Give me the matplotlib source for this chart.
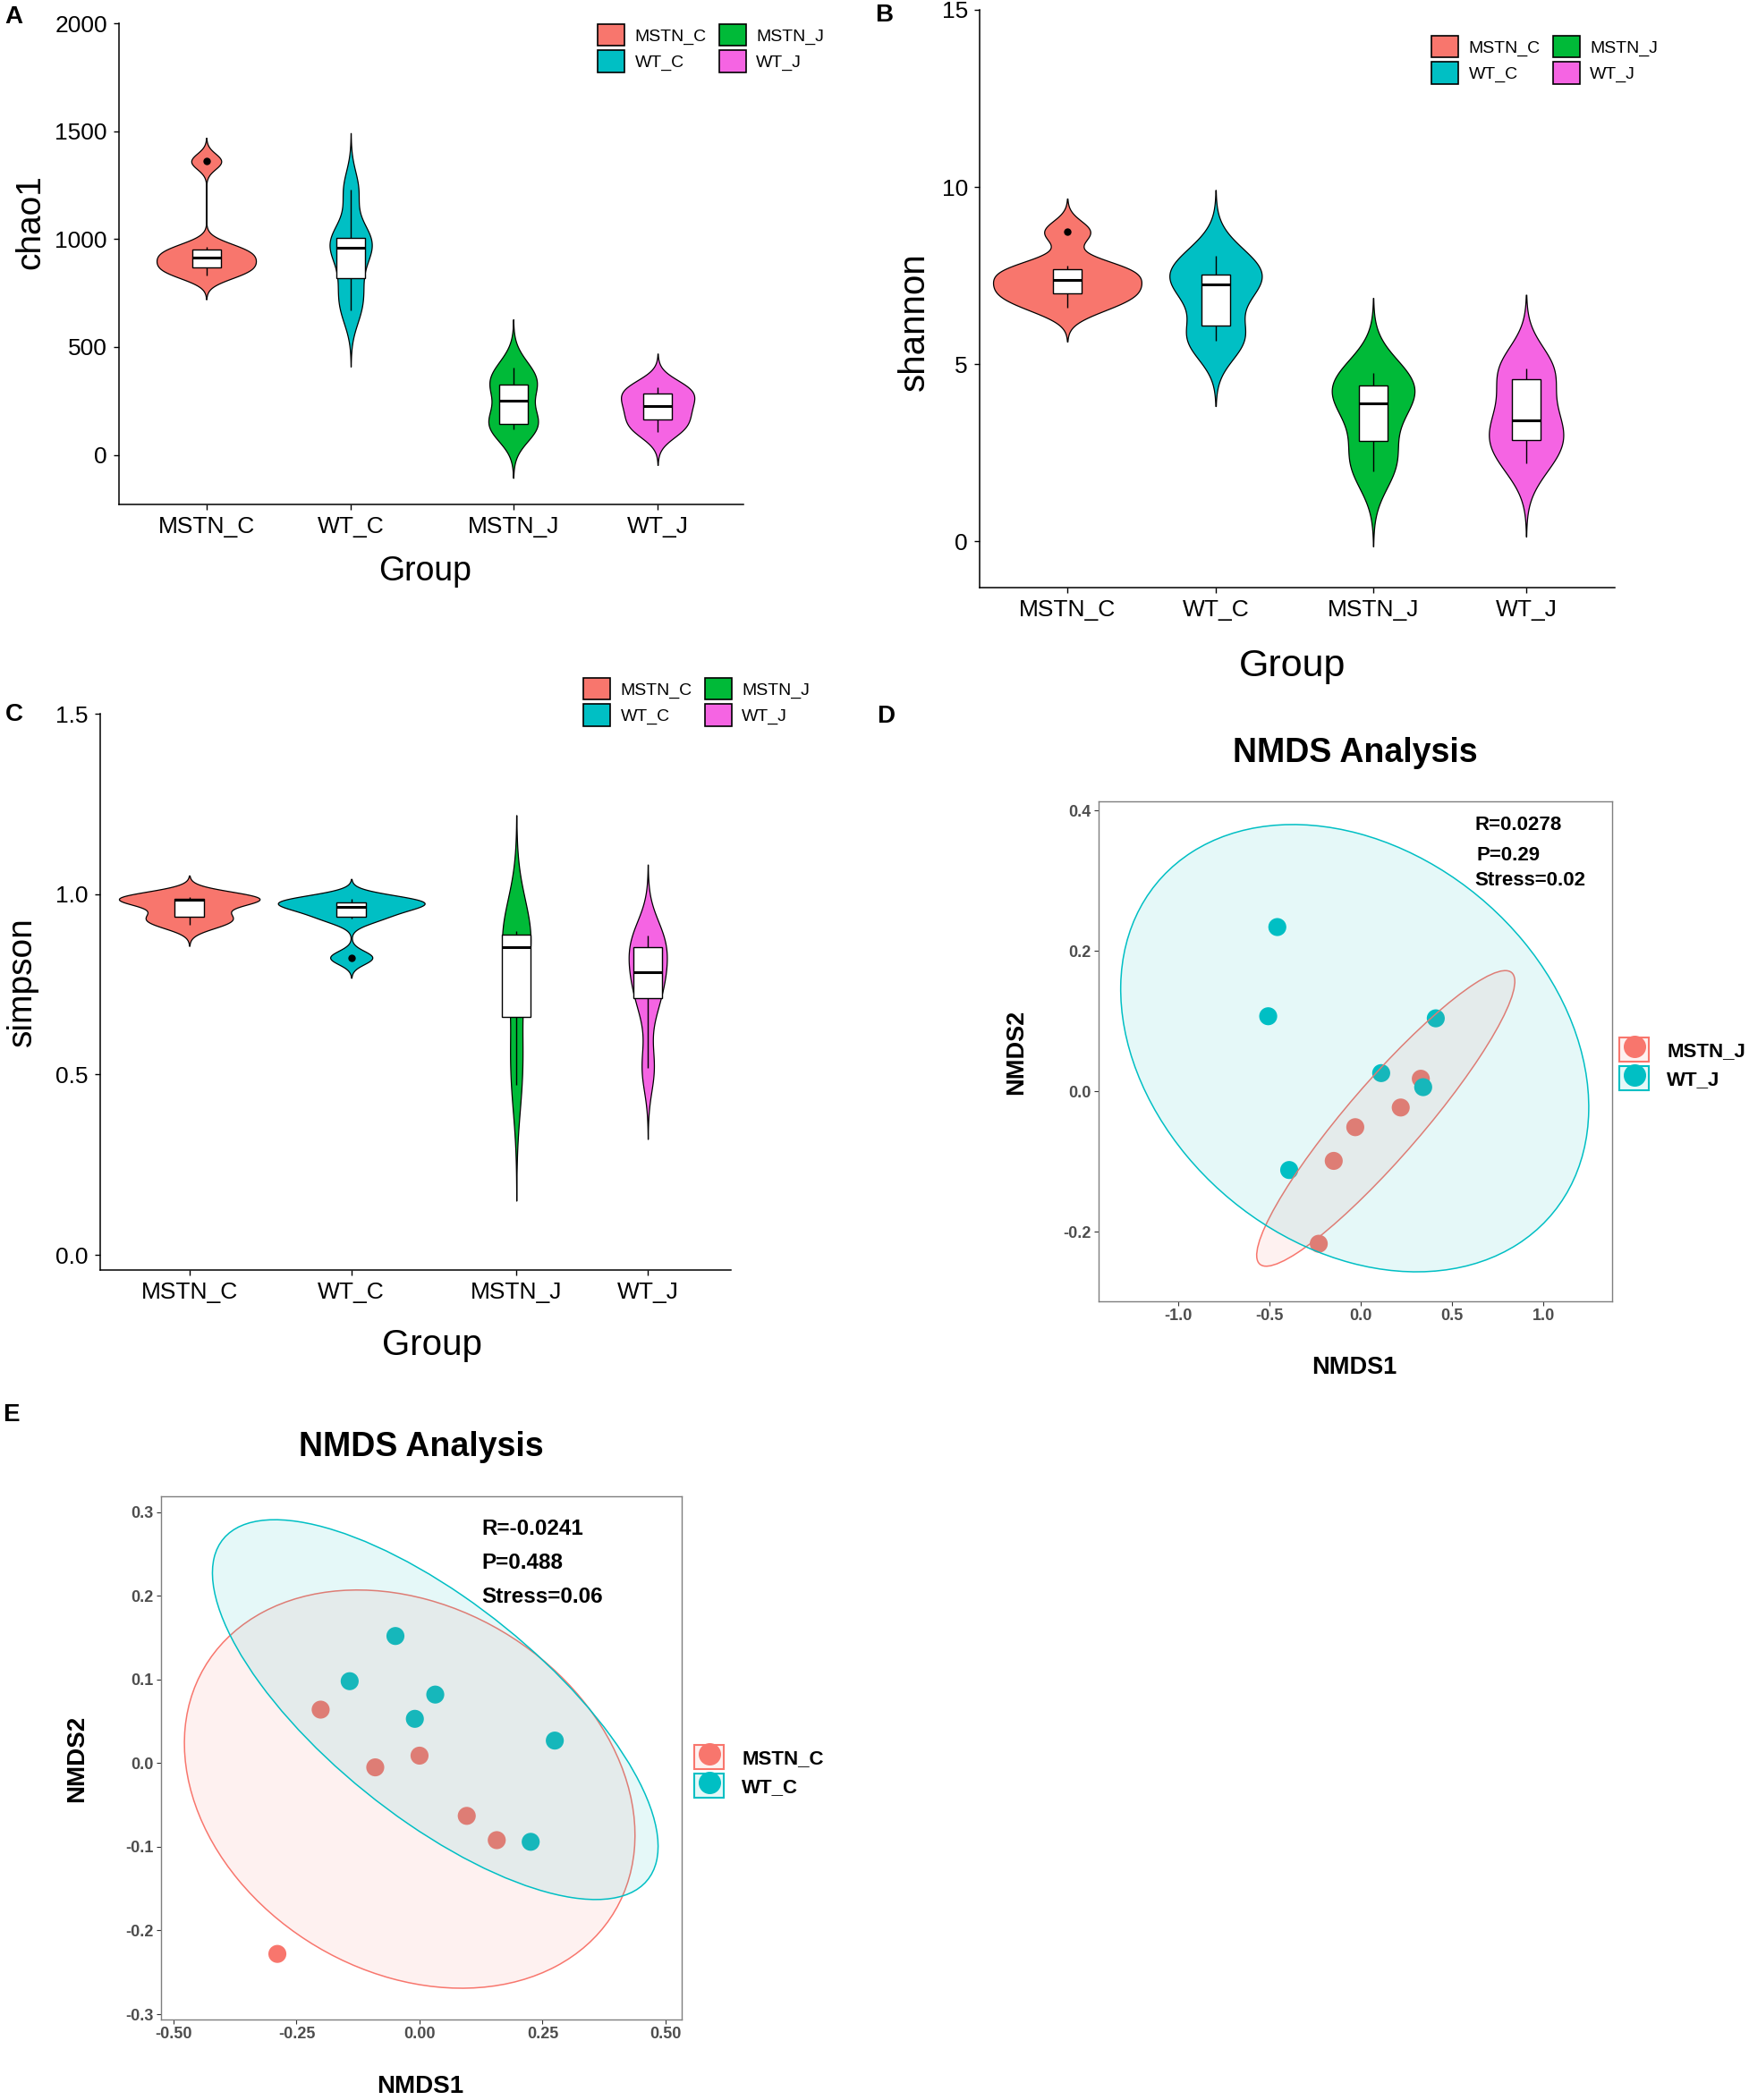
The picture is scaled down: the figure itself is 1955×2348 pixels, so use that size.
"""Alpha diversity violins (chao1, shannon, simpson) and two NMDS panels."""
import numpy as np
import matplotlib
matplotlib.use("Agg")
import matplotlib.pyplot as plt
from matplotlib.colors import to_rgba
from matplotlib.lines import Line2D
from matplotlib.patches import Ellipse, Patch, Rectangle
from matplotlib.legend_handler import HandlerTuple

plt.rcParams['font.family'] = ['Liberation Sans', 'DejaVu Sans']

# ---- data ----
groups = ["MSTN_C", "WT_C", "MSTN_J", "WT_J"]
group_colors = ["#F8766D", "#00BFC4", "#00BA38", "#F564E3"]

chao1_values = [
    [830, 860, 880, 915, 935, 965, 1360],
    [670, 783, 930, 990, 1010, 1230],
    [117, 130, 186, 314, 330, 404],
    [107, 150, 202, 246, 295, 315],
]
shannon_values = [
    [6.58, 6.92, 7.06, 7.37, 7.59, 7.77, 8.73],
    [5.67, 5.79, 7.00, 7.48, 7.53, 8.06],
    [1.96, 2.54, 3.70, 4.10, 4.50, 4.76],
    [2.21, 2.79, 3.10, 3.74, 4.85, 4.88],
]
simpson_values = [
    [0.915, 0.930, 0.946, 0.985, 0.985, 0.987, 0.993],
    [0.824, 0.932, 0.956, 0.974, 0.979, 0.986],
    [0.472, 0.607, 0.820, 0.888, 0.889, 0.897],
    [0.518, 0.696, 0.760, 0.806, 0.867, 0.885],
]

# NMDS of the J groups (panel D)
nmds_j_mstn_x = [0.329, 0.219, -0.030, -0.148, -0.230]
nmds_j_mstn_y = [0.018, -0.023, -0.051, -0.099, -0.217]
nmds_j_wt_x = [-0.457, -0.507, -0.392, 0.112, 0.342, 0.411]
nmds_j_wt_y = [0.234, 0.107, -0.112, 0.026, 0.006, 0.104]
# ellipse: centre x, centre y, half x range, half y range, correlation
ellipse_j_mstn = [0.137, -0.0385, 0.707, 0.2105, 0.926]
ellipse_j_wt = [-0.033, 0.0615, 1.282, 0.3185, -0.2645]
stats_j = ["R=0.0278", "P=0.29", "Stress=0.02"]

# NMDS of the C groups (panel E)
nmds_c_mstn_x = [-0.201, -0.090, 0.000, 0.096, 0.157, -0.289]
nmds_c_mstn_y = [0.064, -0.005, 0.009, -0.063, -0.092, -0.228]
nmds_c_wt_x = [-0.049, -0.142, 0.032, -0.0095, 0.275, 0.226]
nmds_c_wt_y = [0.152, 0.098, 0.082, 0.053, 0.027, -0.094]
ellipse_c_mstn = [-0.020, -0.031, 0.458, 0.238, -0.231]
ellipse_c_wt = [0.032, 0.064, 0.453, 0.227, -0.72]
stats_c = ["R=-0.0241", "P=0.488", "Stress=0.06"]

W, H = 1955, 2348


def fx(px):
    return px / W


def fy(py):
    return 1 - py / H


def rect(left, top, right, bottom):
    return [fx(left), fy(bottom), (right - left) / W, (bottom - top) / H]


def nrd0(vals):
    """R's default bandwidth."""
    sd = vals.std(ddof=1)
    q1, q3 = np.percentile(vals, [25, 75])
    return 0.9 * min(sd, (q3 - q1) / 1.34) * len(vals) ** -0.2


def violin_density(values):
    vals = np.asarray(values, float)
    bw = nrd0(vals)
    grid = np.linspace(vals.min() - 3 * bw, vals.max() + 3 * bw, 512)
    dens = np.exp(-0.5 * ((grid[:, None] - vals[None, :]) / bw) ** 2).sum(axis=1)
    dens /= len(vals) * bw * np.sqrt(2 * np.pi)
    return grid, dens


def plot_violins(ax, values_v, pos_v, max_half, box_w=0.19):
    curves = [violin_density(v) for v in values_v]
    peak = max(d.max() for _, d in curves)
    for (grid, dens), vals, pos, color in zip(curves, values_v, pos_v, group_colors):
        half = dens / peak * max_half
        ax.fill_betweenx(grid, pos - half, pos + half, facecolor=color,
                         edgecolor='black', lw=0.9, zorder=2)
        arr = np.asarray(vals, float)
        q1, med, q3 = np.percentile(arr, [25, 50, 75])
        iqr = q3 - q1
        ok = (arr >= q1 - 1.5 * iqr) & (arr <= q3 + 1.5 * iqr)
        ax.vlines(pos, arr[ok].min(), q1, color='black', lw=1.0, zorder=3)
        ax.vlines(pos, q3, arr[ok].max(), color='black', lw=1.0, zorder=3)
        ax.add_patch(Rectangle((pos - box_w / 2, q1), box_w, q3 - q1,
                               facecolor='white', edgecolor='black', lw=1.0, zorder=4))
        ax.hlines(med, pos - box_w / 2, pos + box_w / 2, color='black', lw=2.2, zorder=5)
        out = arr[~ok]
        ax.plot(np.full(len(out), pos), out, 'o', color='black', ms=5, zorder=6)


def style_violin_axes(ax, pos_v, xlim, ylim, yticks, yticklabels):
    ax.set_xlim(*xlim)
    ax.set_ylim(*ylim)
    ax.set_xticks(pos_v)
    ax.set_xticklabels(groups)
    ax.set_yticks(yticks)
    ax.set_yticklabels(yticklabels)
    for side in ("top", "right"):
        ax.spines[side].set_visible(False)
    for side in ("left", "bottom"):
        ax.spines[side].set_linewidth(1.1)
    ax.tick_params(labelsize=19, length=4.5, width=1.0, pad=5, colors='black')


def violin_legend(fig, left, top):
    handles = [Patch(facecolor=c, edgecolor='black', lw=1.2) for c in group_colors]
    fig.legend(handles, groups, ncol=2, loc='upper left',
               bbox_to_anchor=(fx(left), fy(top)), bbox_transform=fig.transFigure,
               frameon=False, fontsize=14, handlelength=1.55, handleheight=1.55,
               handletextpad=0.6, columnspacing=0.7, labelspacing=0.25,
               borderpad=0, borderaxespad=0)


def add_ellipse(ax, params, color):
    cx, cy, a, b, r = params
    cov = np.array([[a * a, r * a * b], [r * a * b, b * b]])
    lam, vec = np.linalg.eigh(cov)
    angle = np.degrees(np.arctan2(vec[1, 1], vec[0, 1]))
    ax.add_patch(Ellipse((cx, cy), 2 * np.sqrt(lam[1]), 2 * np.sqrt(lam[0]), angle=angle,
                         facecolor=to_rgba(color, 0.1), edgecolor=color, lw=1.1, zorder=3))


def plot_nmds(ax, pts, ellipses, xlim, ylim, xticks, xticklabels, yticks, yticklabels):
    colors = [group_colors[0], group_colors[1]]
    for (x, y), c in zip(pts, colors):
        ax.scatter(x, y, s=210, color=c, edgecolors='none', zorder=2)
    for params, c in zip(ellipses, colors):
        add_ellipse(ax, params, c)
    ax.set_xlim(*xlim)
    ax.set_ylim(*ylim)
    ax.set_xticks(xticks)
    ax.set_xticklabels(xticklabels)
    ax.set_yticks(yticks)
    ax.set_yticklabels(yticklabels)
    for sp in ax.spines.values():
        sp.set_color('#7F7F7F')
        sp.set_linewidth(1.0)
    ax.tick_params(labelsize=13, length=3.5, width=0.8, pad=2.5, color='#333333',
                   labelcolor='#4D4D4D')
    for lab in ax.get_xticklabels() + ax.get_yticklabels():
        lab.set_fontweight('bold')


def nmds_legend(fig, labels, left, top):
    colors = [group_colors[0], group_colors[1]]
    handles = [(Patch(facecolor=to_rgba(c, 0.1), edgecolor=c, lw=1.5),
                Line2D([], [], marker='o', ls='', color=c, ms=17)) for c in colors]
    fig.legend(handles, labels, loc='upper left', bbox_to_anchor=(fx(left), fy(top)),
               bbox_transform=fig.transFigure, frameon=False,
               prop={'weight': 'bold', 'size': 16},
               handler_map={tuple: HandlerTuple(ndivide=1, pad=0)},
               handlelength=1.5, handleheight=1.5, handletextpad=0.9,
               labelspacing=0.22, borderpad=0, borderaxespad=0)


fig = plt.figure(figsize=(W / 100, H / 100), dpi=100)

# ---- A: chao1 ----
pos_a = [1, 1.96, 3.04, 4]
ax_a = fig.add_axes(rect(133, 26, 831, 564))
plot_violins(ax_a, chao1_values, pos_a, 0.33)
style_violin_axes(ax_a, pos_a, (0.42, 4.57), (-230, 2000),
                  [0, 500, 1000, 1500, 2000], ["0", "500", "1000", "1500", "2000"])
violin_legend(fig, 668, 27)
fig.text(fx(34), fy(248), "chao1", fontsize=28, rotation=90, ha='center', va='center')
fig.text(fx(475), fy(649), "Group", fontsize=27, ha='center', va='baseline')

# ---- B: shannon ----
pos_b = [1, 1.97, 3.0, 4]
ax_b = fig.add_axes(rect(1095, 11, 1805, 657))
plot_violins(ax_b, shannon_values, pos_b, 0.485)
style_violin_axes(ax_b, pos_b, (0.427, 4.58), (-1.31, 15),
                  [0, 5, 10, 15], ["0", "5", "10", "15"])
violin_legend(fig, 1600, 40)
fig.text(fx(1022), fy(360), "shannon", fontsize=29, rotation=90, ha='center', va='center')
fig.text(fx(1445), fy(756), "Group", fontsize=31, ha='center', va='baseline')

# ---- C: simpson ----
pos_c = [1, 2.06, 3.14, 4]
ax_c = fig.add_axes(rect(112, 798, 817, 1420))
plot_violins(ax_c, simpson_values, pos_c, 0.48)
style_violin_axes(ax_c, pos_c, (0.417, 4.544), (-0.042, 1.5),
                  [0, 0.5, 1.0, 1.5], ["0.0", "0.5", "1.0", "1.5"])
violin_legend(fig, 652, 758)
fig.text(fx(25), fy(1098), "simpson", fontsize=28, rotation=90, ha='center', va='center')
fig.text(fx(483), fy(1515), "Group", fontsize=29, ha='center', va='baseline')

# ---- D: NMDS, J groups ----
ax_d = fig.add_axes(rect(1228, 896, 1802, 1455))
plot_nmds(ax_d, [(nmds_j_mstn_x, nmds_j_mstn_y), (nmds_j_wt_x, nmds_j_wt_y)],
          [ellipse_j_mstn, ellipse_j_wt],
          (-1.436, 1.377), (-0.299, 0.413),
          [-1.0, -0.5, 0.0, 0.5, 1.0], ["-1.0", "-0.5", "0.0", "0.5", "1.0"],
          [-0.2, 0.0, 0.2, 0.4], ["-0.2", "0.0", "0.2", "0.4"])
nmds_legend(fig, ["MSTN_J", "WT_J"], 1810, 1160)
fig.text(fx(1515), fy(842), "NMDS Analysis", fontsize=27, weight='bold', ha='center', va='center')
fig.text(fx(1514), fy(1529), "NMDS1", fontsize=19.5, weight='bold', ha='center', va='center')
fig.text(fx(1136), fy(1176), "NMDS2", fontsize=19.5, weight='bold', rotation=90,
         ha='center', va='center')
for txt, (lx, ly) in zip(stats_j, [(1648, 923), (1650, 956), (1648, 985)]):
    fig.text(fx(lx), fy(ly), txt, fontsize=16, weight='bold', ha='left', va='center')

# ---- E: NMDS, C groups ----
ax_e = fig.add_axes(rect(180, 1673, 762, 2258))
plot_nmds(ax_e, [(nmds_c_mstn_x, nmds_c_mstn_y), (nmds_c_wt_x, nmds_c_wt_y)],
          [ellipse_c_mstn, ellipse_c_wt],
          (-0.5255, 0.533), (-0.3064, 0.319),
          [-0.5, -0.25, 0.0, 0.25, 0.5], ["-0.50", "-0.25", "0.00", "0.25", "0.50"],
          [-0.3, -0.2, -0.1, 0.0, 0.1, 0.2, 0.3],
          ["-0.3", "-0.2", "-0.1", "0.0", "0.1", "0.2", "0.3"])
nmds_legend(fig, ["MSTN_C", "WT_C"], 776, 1951)
fig.text(fx(471), fy(1618), "NMDS Analysis", fontsize=27, weight='bold', ha='center', va='center')
fig.text(fx(470), fy(2333), "NMDS1", fontsize=20, weight='bold', ha='center', va='center')
fig.text(fx(86), fy(1966), "NMDS2", fontsize=20, weight='bold', rotation=90,
         ha='center', va='center')
for txt, (lx, ly) in zip(stats_c, [(538, 1710), (538, 1747), (538, 1785)]):
    fig.text(fx(lx), fy(ly), txt, fontsize=17.5, weight='bold', ha='left', va='center')

# ---- panel letters ----
for letter, (lx, ly) in zip("ABCDE", [(15, 19), (988, 17), (16, 799), (990, 801), (12, 1582)]):
    fig.text(fx(lx), fy(ly), letter, fontsize=20, weight='bold', ha='center', va='center')

fig.savefig("out.png", dpi=100)
